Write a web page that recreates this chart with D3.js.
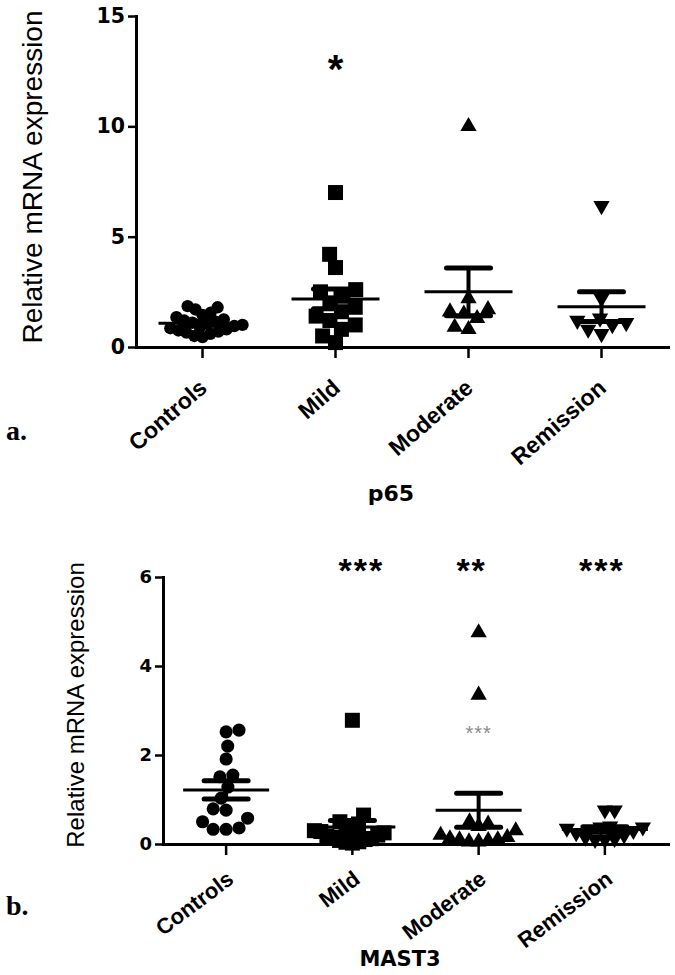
<!DOCTYPE html>
<html>
<head>
<meta charset="utf-8">
<script src="https://cdn.jsdelivr.net/npm/d3@7/dist/d3.min.js"></script>
<style>
  html, body { margin: 0; padding: 0; background: #fff; }
  svg { display: block; }
</style>
</head>
<body>
<svg id="chart" width="675" height="975"></svg>
<script>
// ---------------- DATA ----------------
const categories = ["Controls", "Mild", "Moderate", "Remission"];

// Panel a: p65
const p65Controls = [1.85, 1.8, 1.7, 1.55, 1.45, 1.35, 1.25, 1.2, 1.15, 1.1, 1.05, 1.0, 0.95, 0.9, 0.85, 0.8, 0.75, 0.7, 0.65, 0.6, 0.5, 0.45];
const p65Mild = [7.0, 4.2, 3.6, 2.6, 2.5, 2.3, 2.0, 1.8, 1.6, 1.4, 1.2, 1.0, 0.8, 0.5, 0.2];
const p65Moderate = [10.0, 2.2, 1.7, 1.6, 1.5, 1.3, 0.9, 0.8];
const p65Remission = [6.4, 2.2, 1.3, 1.2, 1.1, 1.0, 0.8, 0.6];
const p65Ticks = [0, 5, 10, 15];
const p65Sig = ["", "*", "", ""];
const p65Title = "p65";

// Panel b: MAST3
const mast3Controls = [2.2, 2.52, 2.56, 1.91, 1.55, 1.51, 1.28, 1.03, 0.79, 0.76, 0.58, 0.5, 0.36, 0.33, 0.33];
const mast3Mild = [2.78, 0.65, 0.5, 0.45, 0.4, 0.35, 0.3, 0.28, 0.25, 0.2, 0.18, 0.15, 0.12, 0.1, 0.08, 0.05, 0.04, 0.02];
const mast3Moderate = [4.75, 3.35, 0.5, 0.45, 0.4, 0.3, 0.2, 0.15, 0.12, 0.1, 0.1, 0.08, 0.05, 0.05];
const mast3Remission = [0.76, 0.76, 0.4, 0.38, 0.38, 0.35, 0.3, 0.25, 0.2, 0.15, 0.12, 0.1, 0.1];
const mast3Ticks = [0, 2, 4, 6];
const mast3Sig = ["", "***", "**", "***"];
const mast3Title = "MAST3";
const mast3Extra = { category: "Moderate", value: 2.5, text: "***" };

const yTitle = "Relative mRNA expression";

// ---------------- DRAW ----------------
const svg = d3.select("#chart");
const WIDE = "'DejaVu Sans', Verdana, sans-serif";
const ARIAL = "'Liberation Sans', Arial, Helvetica, sans-serif";

function beeswarm(values, y, D, maxHalf) {
  const pts = values.map((v, i) => ({ v, i, y: y(v), x: 0 }));
  const order = pts.slice().sort((a, b) => a.v - b.v);
  const placed = [];
  order.forEach((p, k) => {
    const cands = [0];
    placed.forEach(q => {
      const dy = Math.abs(p.y - q.y);
      if (dy < D) {
        const dx = Math.sqrt(D * D - dy * dy);
        cands.push(q.x + dx, q.x - dx);
      }
    });
    const sign = k % 2 === 0 ? 1 : -1;
    cands.sort((a, b) => (Math.abs(a) - Math.abs(b)) || (sign * (b - a)));
    for (const c of cands) {
      if (placed.every(q => (c - q.x) ** 2 + (p.y - q.y) ** 2 >= D * D - 0.01)) {
        p.x = c; break;
      }
    }
    placed.push(p);
  });
  const mx = d3.max(pts, p => Math.abs(p.x)) || 0;
  if (mx > maxHalf) pts.forEach(p => { p.x = p.x * maxHalf / mx; });
  return pts;
}

function drawPanel(cfg) {
  const g = svg.append("g");
  const x = d3.scaleBand().domain(categories).range([cfg.x0, cfg.x1]);
  const y = d3.scaleLinear().domain([0, cfg.ticks[cfg.ticks.length - 1]]).range([cfg.yBottom, cfg.yTop]);

  // y axis
  const ya = g.append("g").attr("transform", `translate(${cfg.x0},0)`)
    .call(d3.axisLeft(y).tickValues(cfg.ticks).tickFormat(d3.format("d"))
      .tickSize(8).tickSizeOuter(0).tickPadding(3));
  ya.select(".domain").attr("stroke", "#000").attr("stroke-width", 3).attr("stroke-linecap", "square");
  ya.selectAll(".tick line").attr("stroke", "#000").attr("stroke-width", 2.5);
  ya.selectAll(".tick text").attr("font-family", WIDE).attr("font-weight", "bold")
    .attr("font-size", cfg.tickFont).attr("fill", "#000");

  // x axis
  const xa = g.append("g").attr("transform", `translate(0,${cfg.yBottom})`)
    .call(d3.axisBottom(x).tickSize(11).tickSizeOuter(0));
  xa.select(".domain").attr("stroke", "#000").attr("stroke-width", 3).attr("stroke-linecap", "square");
  xa.selectAll(".tick line").attr("stroke", "#000").attr("stroke-width", 2.5);
  xa.selectAll(".tick text")
    .attr("font-family", ARIAL).attr("font-weight", "bold").attr("font-size", cfg.catFont).attr("fill", "#000")
    .attr("x", 0).attr("y", 0).attr("dy", 0)
    .attr("text-anchor", "end")
    .attr("transform", `translate(${cfg.catDx},${cfg.catDy}) rotate(${-cfg.catAngle})`);

  // y title
  g.append("text")
    .attr("transform", `translate(${cfg.yTitleX},${cfg.yTitleY}) rotate(-90)`)
    .attr("text-anchor", "middle")
    .attr("font-family", ARIAL).attr("font-size", cfg.yTitleFont).attr("fill", "#000")
    .text(yTitle);

  // x title
  g.append("text")
    .attr("x", cfg.xTitleX).attr("y", cfg.xTitleY)
    .attr("text-anchor", "middle")
    .attr("font-family", WIDE).attr("font-weight", "bold").attr("font-size", cfg.xTitleFont).attr("fill", "#000")
    .text(cfg.title);

  // panel letter
  g.append("text")
    .attr("x", cfg.letterX).attr("y", cfg.letterY)
    .attr("font-family", "'Liberation Serif', 'Times New Roman', serif").attr("font-weight", "bold")
    .attr("font-size", 28).attr("fill", "#000")
    .text(cfg.letter);

  const symbols = [
    { type: d3.symbolCircle, size: cfg.circleSize, rot: 0, D: cfg.circleD },
    { type: d3.symbolSquare, size: cfg.squareSize, rot: 0, D: cfg.squareD },
    { type: d3.symbolTriangle, size: cfg.triSize, rot: 0, D: cfg.triD },
    { type: d3.symbolTriangle, size: cfg.triSize, rot: 180, D: cfg.triD }
  ];

  cfg.groups.forEach((vals, i) => {
    const cx = x(categories[i]) + x.bandwidth() / 2;
    const sym = symbols[i];
    const pts = beeswarm(vals, y, sym.D, cfg.maxHalf);
    g.append("g").selectAll("path").data(pts).join("path")
      .attr("d", d3.symbol().type(sym.type).size(sym.size))
      .attr("transform", d => `translate(${cx + d.x},${d.y}) rotate(${sym.rot})`)
      .attr("fill", "#000");

    const m = d3.mean(vals);
    const sem = d3.deviation(vals) / Math.sqrt(vals.length);
    const eg = g.append("g").attr("stroke", "#000").attr("fill", "none");
    eg.append("line").attr("x1", cx - cfg.meanHalf).attr("x2", cx + cfg.meanHalf)
      .attr("y1", y(m)).attr("y2", y(m)).attr("stroke-width", 3);
    eg.append("line").attr("x1", cx).attr("x2", cx)
      .attr("y1", y(m - sem)).attr("y2", y(m + sem)).attr("stroke-width", 4);
    [m - sem, m + sem].forEach(v => {
      eg.append("line").attr("x1", cx - cfg.capHalf).attr("x2", cx + cfg.capHalf)
        .attr("y1", y(v)).attr("y2", y(v)).attr("stroke-width", 5).attr("stroke-linecap", "round");
    });

    if (cfg.sig[i]) {
      g.append("text")
        .attr("x", cx + cfg.sigDx[i]).attr("y", y(cfg.sigValue))
        .attr("text-anchor", "middle").attr("dominant-baseline", "central")
        .attr("font-family", ARIAL).attr("font-weight", "bold").attr("font-size", cfg.sigFont).attr("fill", "#000")
        .attr("letter-spacing", cfg.sigSpacing)
        .text(cfg.sig[i]);
    }
  });

  if (cfg.extra) {
    const cx = x(cfg.extra.category) + x.bandwidth() / 2;
    g.append("text")
      .attr("x", cx).attr("y", y(cfg.extra.value))
      .attr("text-anchor", "middle").attr("dominant-baseline", "central")
      .attr("font-family", ARIAL).attr("font-size", 20).attr("fill", "#8a8a8a")
      .attr("letter-spacing", 1)
      .text(cfg.extra.text);
  }
}

drawPanel({
  x0: 136, x1: 668, yTop: 16, yBottom: 347,
  ticks: p65Ticks, tickFont: 20.5,
  catFont: 23, catDx: 6, catDy: 43, catAngle: 41,
  groups: [p65Controls, p65Mild, p65Moderate, p65Remission],
  sig: p65Sig, sigValue: 12.6, sigFont: 40, sigDx: [0, 0, 0, 0], sigSpacing: 0,
  yTitleX: 42, yTitleY: 177, yTitleFont: 28,
  title: p65Title, xTitleX: 391, xTitleY: 501, xTitleFont: 22,
  letter: "a.", letterX: 6, letterY: 440,
  circleSize: 120, circleD: 10.5, squareSize: 225, squareD: 14.5, triSize: 115, triD: 14,
  maxHalf: 40,
  meanHalf: 44, capHalf: 22
});

drawPanel({
  x0: 163, x1: 668, yTop: 577, yBottom: 844,
  ticks: mast3Ticks, tickFont: 18,
  catFont: 22, catDx: 9, catDy: 38, catAngle: 37,
  groups: [mast3Controls, mast3Mild, mast3Moderate, mast3Remission],
  sig: mast3Sig, sigValue: 6.15, sigFont: 34, sigDx: [0, 9, -7, -3], sigSpacing: 2,
  yTitleX: 84, yTitleY: 705, yTitleFont: 24,
  title: mast3Title, xTitleX: 400, xTitleY: 966, xTitleFont: 21,
  letter: "b.", letterX: 6, letterY: 915,
  circleSize: 135, circleD: 13, squareSize: 225, squareD: 14.5, triSize: 115, triD: 14,
  maxHalf: 38,
  meanHalf: 43, capHalf: 22,
  extra: mast3Extra
});
</script>
</body>
</html>
